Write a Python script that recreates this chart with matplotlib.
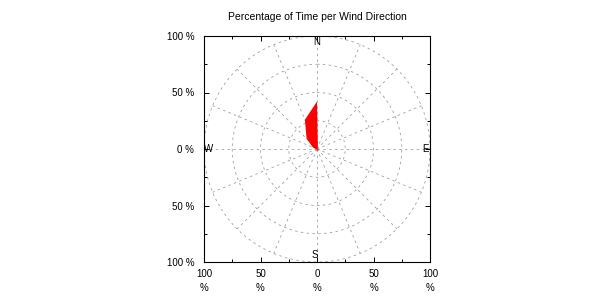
import numpy as np
import matplotlib
matplotlib.use("Agg")
import matplotlib.pyplot as plt

# Data: percentage of time per wind direction (16 compass sectors, clockwise from N)
directions = ["N", "NNE", "NE", "ENE", "E", "ESE", "SE", "SSE",
              "S", "SSW", "SW", "WSW", "W", "WNW", "NW", "NNW"]
percent = [42, 2, 1, 0.5, 0.5, 1, 1, 2, 1, 0.5, 0.5, 0.5, 1, 4, 13, 28]
ring_levels = [25, 50, 75, 100]
tick_values = [-100, -50, 0, 50, 100]
x_tick_labels = ["100\n%", "50\n%", "0\n%", "50\n%", "100\n%"]
y_tick_labels = ["100 %", "50 %", "0 %", "50 %", "100 %"]
compass_labels = ["N", "E", "S", "W"]

plt.rcParams['font.family'] = ['Liberation Sans', 'DejaVu Sans']
fig = plt.figure(figsize=(6, 3), dpi=100)
ax = fig.add_axes([204/600, 1-262/300, 226/600, 226/300])
ax.set_xlim(-100, 100)
ax.set_ylim(-100, 100)

grid_color = "#a0a0a0"
t = np.linspace(0, 2*np.pi, 400)
for r in ring_levels:
    ax.plot(r*np.sin(t), r*np.cos(t), color=grid_color, lw=0.6,
            dashes=(3, 4), zorder=1)
angles = np.deg2rad(np.arange(len(directions)) * 360/len(directions))
for a in angles:
    ax.plot([0, 100*np.sin(a)], [0, 100*np.cos(a)], color=grid_color,
            lw=0.6, dashes=(3, 4), zorder=1)

pr = np.array(percent + [percent[0]])
pa = np.append(angles, angles[0])
ax.fill(pr*np.sin(pa), pr*np.cos(pa), color="#ff0000", lw=0, zorder=3)

fs = 7
ax.text(0, 95, compass_labels[0], ha="center", va="center", fontsize=fs)
ax.text(96, 0, compass_labels[1], ha="center", va="center", fontsize=fs)
ax.text(-2, -94, compass_labels[2], ha="center", va="center", fontsize=fs)
ax.text(-96, 0, compass_labels[3], ha="center", va="center", fontsize=fs)

ax.set_xticks(tick_values)
ax.set_xticklabels(x_tick_labels, fontsize=fs, linespacing=1.5)
ax.set_yticks(tick_values)
ax.set_yticklabels(y_tick_labels, fontsize=fs)
ax.set_xticks([-75, -25, 25, 75], minor=True)
ax.set_yticks([-75, -25, 25, 75], minor=True)
ax.tick_params(which="major", direction="in", length=3.6, width=0.7,
               top=True, right=True, pad=7)
ax.tick_params(which="minor", direction="in", length=2, width=0.7,
               top=True, right=True)
ax.tick_params(axis="x", which="major", pad=5)
for s in ax.spines.values():
    s.set_linewidth(0.8)

fig.text(317/600, 1-17/300, "Percentage of Time per Wind Direction",
         ha="center", va="center", fontsize=7.5)
fig.savefig("out.png", dpi=100)
